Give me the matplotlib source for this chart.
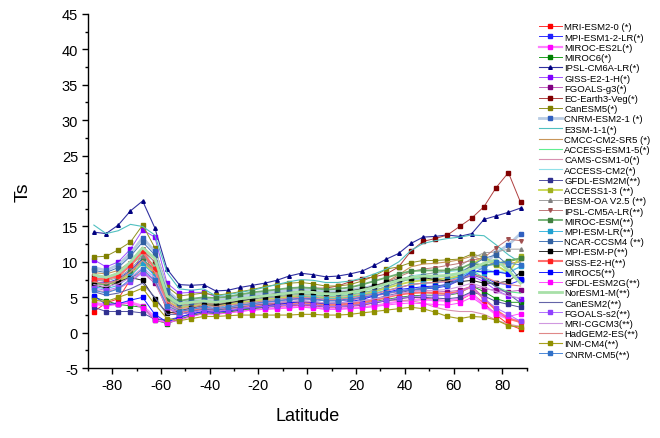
import matplotlib
matplotlib.use('Agg')
import matplotlib.pyplot as plt
from matplotlib.ticker import MultipleLocator

plt.rcParams['font.family'] = ['Liberation Sans', 'DejaVu Sans']
plt.rcParams['axes.unicode_minus'] = False

# latitude grid (5 degree bands)
lat = [-87.5, -82.5, -77.5, -72.5, -67.5, -62.5, -57.5, -52.5, -47.5, -42.5, -37.5, -32.5,
       -27.5, -22.5, -17.5, -12.5, -7.5, -2.5, 2.5, 7.5, 12.5, 17.5, 22.5, 27.5,
       32.5, 37.5, 42.5, 47.5, 52.5, 57.5, 62.5, 67.5, 72.5, 77.5, 82.5, 87.5]

models = ['MRI-ESM2-0 (*)', 'MPI-ESM1-2-LR(*)', 'MIROC-ES2L(*)', 'MIROC6(*)', 'IPSL-CM6A-LR(*)',
          'GISS-E2-1-H(*)', 'FGOALS-g3(*)', 'EC-Earth3-Veg(*)', 'CanESM5(*)', 'CNRM-ESM2-1 (*)',
          'E3SM-1-1(*)', 'CMCC-CM2-SR5 (*)', 'ACCESS-ESM1-5(*)', 'CAMS-CSM1-0(*)', 'ACCESS-CM2(*)',
          'GFDL-ESM2M(**)', 'ACCESS1-3 (**)', 'BESM-OA V2.5 (**)', 'IPSL-CM5A-LR(**)', 'MIROC-ESM(**)',
          'MPI-ESM-LR(**)', 'NCAR-CCSM4 (**)', 'MPI-ESM-P(**)', 'GISS-E2-H(**)', 'MIROC5(**)',
          'GFDL-ESM2G(**)', 'NorESM1-M(**)', 'CanESM2(**)', 'FGOALS-s2(**)', 'MRI-CGCM3(**)',
          'HadGEM2-ES(**)', 'INM-CM4(**)', 'CNRM-CM5(**)']

ts = [
    [3.0, 4.2, 4.8, 7.5, 11.6, 8.0, 3.0, 2.6, 2.9, 3.2, 3.0, 3.2, 3.4, 3.5, 3.6, 3.7, 3.8, 3.9, 3.8, 3.6, 3.6, 3.7, 3.9, 4.2, 4.6, 4.9, 5.0, 4.9, 4.7, 4.5, 4.6, 5.5, 4.2, 2.5, 1.2, 0.5],
    [7.2, 7.0, 7.6, 8.8, 10.5, 8.0, 4.2, 3.2, 3.4, 3.6, 3.4, 3.6, 3.9, 4.1, 4.3, 4.5, 4.7, 4.9, 4.8, 4.6, 4.6, 4.8, 5.0, 5.3, 5.6, 5.9, 6.1, 6.2, 6.3, 6.6, 7.4, 8.4, 7.8, 7.0, 6.8, 7.4],
    [4.2, 4.0, 4.1, 4.3, 3.8, 2.2, 1.5, 1.9, 2.4, 2.8, 2.7, 2.9, 3.1, 3.3, 3.4, 3.5, 3.6, 3.7, 3.6, 3.4, 3.4, 3.5, 3.6, 3.8, 4.1, 4.4, 4.6, 4.7, 4.6, 4.5, 4.8, 5.6, 3.8, 2.6, 2.0, 1.7],
    [5.0, 4.5, 4.0, 3.8, 3.6, 1.8, 1.3, 1.9, 2.4, 2.8, 2.7, 2.9, 3.2, 3.4, 3.6, 3.8, 4.0, 4.1, 4.0, 3.8, 3.8, 3.9, 4.1, 4.4, 4.7, 5.0, 5.2, 5.3, 5.3, 5.3, 5.6, 6.6, 5.8, 4.8, 4.3, 4.3],
    [14.2, 14.0, 15.2, 17.2, 18.6, 14.8, 9.0, 6.8, 6.7, 6.8, 5.9, 6.0, 6.4, 6.7, 7.0, 7.4, 8.0, 8.4, 8.2, 7.9, 8.0, 8.3, 8.7, 9.5, 10.4, 11.2, 12.6, 13.5, 13.6, 13.8, 13.6, 14.0, 16.0, 16.5, 17.0, 17.6],
    [10.3, 9.3, 10.0, 11.8, 14.5, 13.5, 7.0, 5.6, 5.7, 5.7, 5.1, 5.0, 5.0, 5.0, 5.0, 5.0, 5.1, 5.2, 5.1, 4.9, 4.9, 5.0, 5.2, 5.5, 5.9, 6.3, 6.8, 7.0, 7.1, 7.2, 7.6, 8.0, 7.2, 6.0, 5.2, 4.8],
    [7.5, 7.2, 7.3, 7.8, 8.5, 7.0, 3.5, 2.9, 3.2, 3.5, 3.4, 3.6, 3.9, 4.1, 4.3, 4.5, 4.7, 4.8, 4.7, 4.5, 4.5, 4.6, 4.9, 5.2, 5.5, 5.8, 6.0, 6.0, 5.9, 5.8, 6.0, 6.6, 6.2, 6.0, 5.8, 6.0],
    [8.0, 7.8, 8.2, 9.5, 11.5, 10.0, 5.5, 4.0, 4.2, 4.4, 4.0, 4.4, 4.7, 5.0, 5.3, 5.6, 6.0, 6.3, 6.3, 6.3, 6.6, 7.2, 7.6, 7.9, 8.3, 9.3, 11.5, 12.9, 13.3, 13.8, 15.0, 16.2, 17.8, 20.5, 22.6, 18.4],
    [10.7, 10.8, 11.7, 12.8, 15.2, 12.0, 6.5, 5.2, 5.4, 5.6, 5.3, 5.5, 5.8, 6.1, 6.5, 6.8, 7.0, 7.1, 6.9, 6.6, 6.6, 6.8, 7.3, 8.0, 9.0, 9.3, 9.9, 10.2, 10.2, 10.3, 10.4, 11.1, 10.7, 9.7, 10.0, 10.5],
    [9.2, 8.8, 9.6, 11.2, 13.4, 11.5, 6.0, 4.4, 4.6, 4.8, 4.5, 4.8, 5.1, 5.4, 5.6, 5.8, 6.0, 6.2, 6.1, 5.8, 5.8, 6.0, 6.3, 6.6, 7.0, 7.4, 7.6, 7.6, 7.6, 7.6, 8.0, 9.0, 9.5, 11.3, 12.4, 14.0],
    [15.2, 14.0, 14.4, 15.3, 15.0, 13.8, 8.5, 6.2, 6.0, 6.2, 5.2, 5.4, 5.7, 6.0, 6.4, 6.8, 7.2, 7.5, 7.4, 7.1, 7.1, 7.3, 7.7, 8.3, 9.0, 10.0, 11.6, 12.6, 13.0, 13.3, 13.5, 13.8, 13.7, 12.4, 11.0, 9.9],
    [8.5, 8.3, 8.8, 10.0, 12.0, 10.5, 5.5, 4.0, 4.2, 4.4, 4.1, 4.4, 4.7, 4.9, 5.1, 5.3, 5.5, 5.7, 5.6, 5.4, 5.4, 5.6, 6.0, 6.5, 7.2, 8.2, 9.3, 9.7, 9.8, 10.0, 10.3, 10.8, 10.2, 9.5, 9.8, 10.0],
    [7.8, 7.5, 8.0, 9.5, 11.0, 9.5, 5.0, 3.8, 4.0, 4.3, 4.1, 4.3, 4.6, 4.8, 5.0, 5.2, 5.4, 5.5, 5.4, 5.2, 5.2, 5.4, 5.7, 6.0, 6.5, 7.1, 7.6, 7.8, 7.9, 8.0, 8.3, 8.8, 7.8, 6.5, 5.8, 5.6],
    [6.0, 5.8, 6.2, 7.2, 8.8, 7.2, 3.4, 2.7, 3.0, 3.3, 3.1, 3.3, 3.5, 3.7, 3.8, 3.9, 4.0, 4.1, 4.0, 3.8, 3.8, 3.9, 4.1, 4.3, 4.5, 4.6, 4.5, 4.2, 3.6, 3.2, 3.0, 3.0, 2.6, 1.8, 1.2, 0.9],
    [8.0, 7.6, 8.2, 9.6, 11.3, 10.0, 5.4, 4.0, 4.2, 4.4, 4.2, 4.4, 4.7, 4.9, 5.1, 5.3, 5.5, 5.7, 5.6, 5.4, 5.4, 5.6, 5.9, 6.3, 6.8, 7.4, 8.0, 8.3, 8.4, 8.6, 8.8, 9.2, 9.0, 8.6, 8.8, 9.2],
    [3.6, 3.0, 3.0, 3.0, 2.8, 1.9, 1.8, 2.2, 2.6, 3.0, 2.9, 3.1, 3.3, 3.5, 3.7, 3.8, 3.9, 4.0, 3.9, 3.7, 3.7, 3.8, 4.0, 4.2, 4.5, 4.8, 5.0, 5.0, 4.9, 4.8, 5.0, 5.8, 5.2, 4.4, 4.0, 3.6],
    [7.0, 6.8, 7.2, 8.2, 9.8, 8.5, 4.5, 3.5, 3.8, 4.0, 3.8, 4.0, 4.3, 4.5, 4.7, 4.9, 5.1, 5.2, 5.1, 4.9, 4.9, 5.1, 5.4, 5.8, 6.3, 6.8, 7.2, 7.4, 7.5, 7.7, 8.0, 9.6, 10.8, 9.5, 8.5, 10.8],
    [7.6, 7.3, 7.8, 9.0, 10.8, 9.2, 4.8, 3.7, 3.9, 4.2, 4.0, 4.2, 4.5, 4.7, 4.9, 5.1, 5.3, 5.4, 5.3, 5.1, 5.1, 5.3, 5.6, 6.0, 6.5, 7.1, 7.7, 8.2, 8.5, 8.8, 9.4, 10.5, 11.3, 11.4, 11.8, 11.8],
    [8.2, 7.9, 8.4, 9.8, 11.8, 10.0, 5.2, 3.9, 4.1, 4.3, 4.1, 4.3, 4.6, 4.9, 5.1, 5.3, 5.6, 5.8, 5.7, 5.5, 5.5, 5.7, 6.1, 6.6, 7.2, 7.9, 8.6, 9.0, 9.2, 9.5, 9.8, 10.2, 10.6, 12.0, 13.2, 13.0],
    [7.0, 6.8, 7.4, 8.6, 10.2, 9.0, 4.8, 4.5, 4.8, 5.0, 4.9, 5.1, 5.4, 5.7, 5.9, 6.1, 6.3, 6.4, 6.3, 6.1, 6.2, 6.4, 6.8, 7.3, 7.8, 8.3, 8.7, 8.8, 8.8, 8.8, 9.0, 9.8, 9.5, 9.7, 10.2, 10.5],
    [6.5, 6.2, 6.7, 8.0, 9.8, 8.0, 4.0, 3.2, 3.5, 3.8, 3.6, 3.8, 4.1, 4.3, 4.5, 4.7, 4.9, 5.1, 5.0, 4.8, 4.8, 5.0, 5.3, 5.6, 6.0, 6.4, 6.8, 7.0, 7.1, 7.4, 7.9, 8.7, 8.5, 8.6, 8.4, 9.4],
    [8.8, 8.5, 9.2, 10.8, 12.8, 11.0, 5.8, 4.2, 4.4, 4.6, 4.3, 4.5, 4.8, 5.1, 5.3, 5.5, 5.7, 5.9, 5.8, 5.6, 5.6, 5.8, 6.1, 6.5, 6.9, 7.4, 7.8, 8.0, 8.0, 8.1, 8.4, 9.5, 10.5, 11.0, 9.5, 7.5],
    [6.8, 6.3, 7.2, 7.8, 7.4, 4.8, 2.8, 3.0, 3.5, 3.9, 3.9, 4.2, 4.5, 4.8, 5.1, 5.3, 5.5, 5.7, 5.7, 5.6, 5.7, 5.9, 6.2, 6.6, 7.1, 7.6, 7.8, 7.8, 7.5, 7.3, 7.2, 7.4, 7.0, 7.0, 7.3, 8.5],
    [7.6, 7.6, 8.0, 9.5, 11.5, 9.0, 4.0, 3.0, 3.2, 3.5, 3.3, 3.5, 3.7, 3.9, 4.0, 4.1, 4.2, 4.3, 4.2, 4.0, 4.0, 4.1, 4.3, 4.6, 5.0, 5.4, 5.6, 5.7, 5.6, 5.5, 5.8, 6.5, 4.8, 3.2, 2.0, 1.5],
    [5.2, 4.0, 4.1, 4.6, 5.0, 2.6, 1.5, 2.2, 2.7, 3.0, 2.9, 3.1, 3.4, 3.6, 3.8, 4.0, 4.2, 4.4, 4.3, 4.1, 4.2, 4.4, 4.7, 5.2, 5.7, 6.1, 6.3, 6.5, 6.6, 6.8, 7.6, 8.6, 8.7, 8.6, 8.3, 7.6],
    [4.0, 3.8, 4.0, 4.2, 3.5, 1.8, 1.4, 1.8, 2.3, 2.7, 2.6, 2.8, 3.0, 3.2, 3.3, 3.4, 3.5, 3.6, 3.5, 3.3, 3.3, 3.4, 3.5, 3.7, 3.9, 4.1, 4.2, 4.1, 4.0, 3.9, 4.2, 5.0, 3.8, 2.8, 2.3, 2.7],
    [8.2, 7.8, 8.4, 10.0, 12.0, 10.5, 5.2, 4.1, 4.3, 4.5, 4.3, 4.5, 4.8, 5.0, 5.2, 5.4, 5.6, 5.8, 5.7, 5.5, 5.5, 5.7, 6.0, 6.4, 6.9, 7.4, 7.8, 8.0, 8.0, 8.1, 8.4, 9.0, 9.8, 10.3, 8.8, 7.0],
    [5.8, 5.3, 5.6, 6.2, 7.0, 5.0, 2.6, 2.6, 3.0, 3.3, 3.2, 3.4, 3.7, 3.9, 4.1, 4.3, 4.4, 4.5, 4.4, 4.2, 4.2, 4.3, 4.5, 4.8, 5.2, 5.6, 6.0, 6.3, 6.5, 6.8, 7.4, 8.2, 7.6, 6.5, 5.5, 4.2],
    [6.3, 6.0, 6.4, 7.2, 8.5, 7.5, 3.6, 2.6, 2.9, 3.2, 3.0, 3.2, 3.4, 3.6, 3.7, 3.8, 3.9, 4.0, 3.9, 3.7, 3.7, 3.8, 4.0, 4.3, 4.6, 4.9, 5.1, 5.2, 5.2, 5.3, 5.8, 6.5, 4.8, 3.5, 2.6, 1.6],
    [6.8, 6.5, 6.9, 7.8, 9.2, 7.8, 4.0, 3.0, 3.3, 3.6, 3.4, 3.6, 3.8, 4.0, 4.2, 4.3, 4.4, 4.5, 4.4, 4.2, 4.2, 4.3, 4.5, 4.8, 5.1, 5.5, 5.8, 5.9, 6.0, 6.1, 6.5, 7.0, 6.4, 5.8, 5.2, 4.9],
    [7.2, 6.9, 7.4, 8.6, 10.2, 8.6, 4.4, 3.4, 3.6, 3.9, 3.7, 3.9, 4.1, 4.3, 4.5, 4.7, 4.9, 5.0, 4.9, 4.7, 4.7, 4.9, 5.2, 5.5, 5.9, 6.4, 6.8, 7.0, 7.1, 7.3, 7.7, 8.2, 7.9, 7.2, 6.8, 6.6],
    [4.6, 4.4, 5.0, 5.6, 6.3, 4.0, 2.0, 1.7, 2.0, 2.3, 2.3, 2.4, 2.5, 2.5, 2.5, 2.5, 2.5, 2.6, 2.6, 2.5, 2.5, 2.6, 2.8, 3.0, 3.2, 3.4, 3.6, 3.4, 2.9, 2.3, 2.0, 2.3, 2.2, 1.8, 1.0, 0.8],
    [6.0, 5.6, 6.2, 7.6, 9.0, 7.4, 3.8, 3.0, 3.3, 3.6, 3.4, 3.6, 3.9, 4.1, 4.3, 4.5, 4.7, 4.8, 4.7, 4.5, 4.5, 4.7, 5.0, 5.3, 5.6, 5.9, 6.1, 6.2, 6.4, 6.8, 7.6, 8.4, 9.2, 10.0, 9.8, 9.6],
]

# style per model: line colour, marker colour, marker, line width
styles = [
    ('#ff3030', '#ff0000', 's', 0.7), ('#3030ff', '#2020ff', 's', 0.7), ('#ff80ff', '#ff00ff', 's', 1.6),
    ('#20a020', '#008000', 's', 0.7), ('#3030a0', '#000080', '^', 0.8), ('#a050ff', '#8000ff', 's', 0.7),
    ('#c060c0', '#800080', 's', 0.7), ('#b04040', '#800000', 's', 0.7), ('#909020', '#808000', 's', 0.7),
    ('#b8cce4', '#3060c0', 's', 2.0), ('#50c0c0', None, '', 0.8), ('#c8965a', None, '', 0.8),
    ('#60ee90', None, '', 0.8), ('#d890b0', None, '', 0.8), ('#90e0e8', None, '', 0.8),
    ('#5050a0', '#303090', 's', 0.7), ('#c8d850', '#a0b020', 's', 1.3), ('#a0a0a0', '#808080', '^', 0.7),
    ('#c07878', '#a05050', 'v', 0.7), ('#70b070', '#408040', 's', 1.3), ('#40b8e0', '#20a0d0', 's', 0.7),
    ('#4878b8', '#3060a0', 's', 0.7), ('#303030', '#000000', 's', 0.7), ('#ff7070', '#ff2020', 's', 1.5),
    ('#2020ff', '#0000ff', 's', 0.7), ('#ff50ff', '#ff00ff', 's', 0.7), ('#a8e0a8', None, '', 2.0),
    ('#6464a8', None, '', 0.8), ('#b070ff', '#9040ff', 's', 0.7), ('#d098e0', None, '', 0.8),
    ('#e08888', None, '', 0.8), ('#a8a020', '#909000', 's', 0.8), ('#4c88d8', '#3070c8', 's', 0.7),
]

fig = plt.figure(figsize=(6.6, 4.39), dpi=100)
ax = fig.add_axes([0.133, 0.159, 0.665, 0.807])

for name, vals, (lc, mc, mk, lw) in zip(models, ts, styles):
    ax.plot(lat, vals, color=lc, lw=lw, marker=mk if mk else None, ms=2.6,
            mfc=mc, mec=mc, label=name)

ax.set_xlim(-90, 90)
ax.set_ylim(-5, 45)
ax.xaxis.set_minor_locator(MultipleLocator(10))
ax.yaxis.set_major_locator(MultipleLocator(5))
ax.yaxis.set_minor_locator(MultipleLocator(2.5))
ax.set_xticks([-80, -60, -40, -20, 0, 20, 40, 60, 80])
ax.tick_params(which='major', direction='out', length=4, width=1, labelsize=10.5, pad=3)
ax.tick_params(which='minor', direction='out', length=2.2, width=1)
ax.spines['top'].set_visible(False)
ax.spines['right'].set_visible(False)
ax.spines['left'].set_linewidth(1)
ax.spines['bottom'].set_linewidth(1)
ax.set_xlabel('Latitude', fontsize=13, labelpad=11)
ax.set_ylabel('Ts', fontsize=14, labelpad=22)

ax.legend(loc='upper left', bbox_to_anchor=(1.015, 0.992), frameon=False, fontsize=6.8,
          handlelength=2.4, handletextpad=0.3, labelspacing=0.13, borderaxespad=0.2)

fig.savefig('out.png', dpi=100)
